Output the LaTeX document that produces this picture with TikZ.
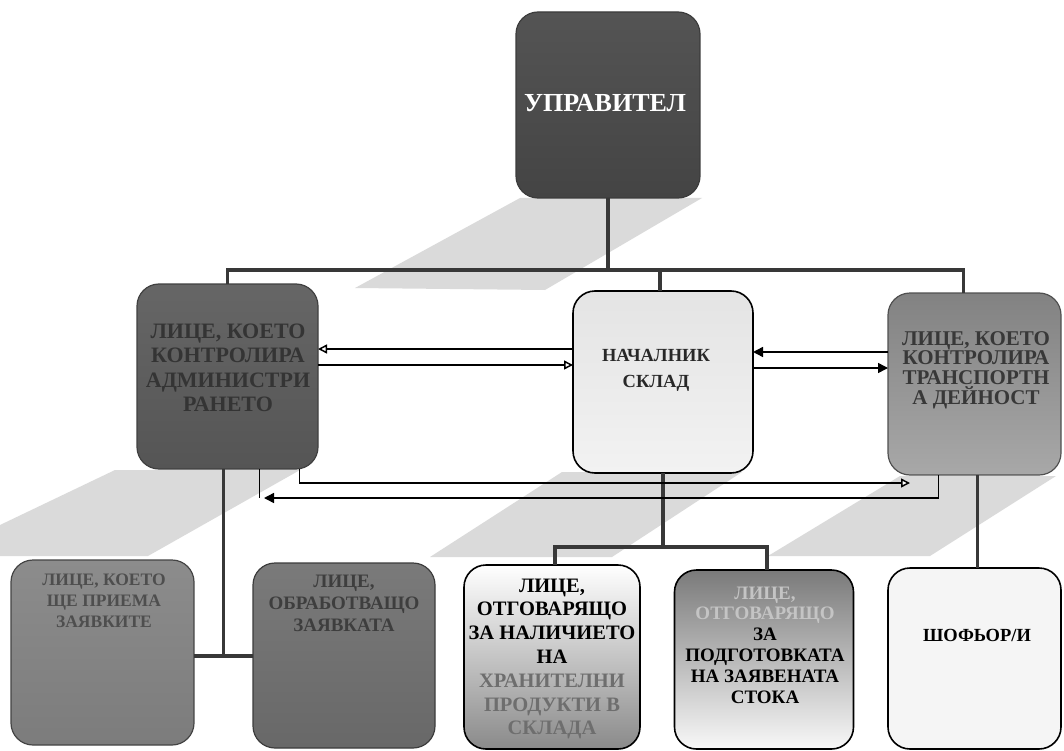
\documentclass[tikz,border=0pt]{standalone}
\usepackage{fontspec}
\setmainfont{Liberation Serif}
\usetikzlibrary{arrows.meta,calc}
\definecolor{shadowgray}{HTML}{DADADA}
\definecolor{lineg}{HTML}{383838}
\definecolor{txtl}{HTML}{C4C4C4}
\definecolor{txtm}{HTML}{6E6E6E}
\newcommand\tightls{\lineskiplimit-20pt\relax\lineskip0pt\relax}
\begin{document}
\begin{tikzpicture}[x=1pt,y=-1pt,
  box/.style={draw, rounded corners=22pt, inner sep=0pt, outer sep=0pt, line width=1.2pt},
  txt/.style={align=center, inner sep=0pt, font=\bfseries},
  orgline/.style={draw=lineg, line width=3.2pt},
  arr/.style={draw=black, line width=1.5pt},
  openarr/.style={arr, -{Triangle[open, length=9pt, width=9pt, fill=white]}},
  fillarr/.style={arr, -{Triangle[length=10pt, width=10pt]}}
]
\useasboundingbox (0,0) rectangle (1064,751);

% shadows
\fill[shadowgray] (355,288) -- (520,198) -- (702,198) -- (545,290) -- cycle;
\fill[shadowgray] (0,556) -- (0,525) -- (115,470) -- (300,470) -- (148,556) -- cycle;
\fill[shadowgray] (430,557) -- (562,472) -- (742,472) -- (612,557) -- cycle;
\fill[shadowgray] (768,556) -- (900,476) -- (1056,476) -- (930,556) -- cycle;

% boxes
\node[box, draw={rgb,255:red,60;green,60;blue,60}, top color={rgb,255:red,84;green,84;blue,84}, bottom color={rgb,255:red,68;green,68;blue,68}, minimum width=184pt, minimum height=186pt] (mgr) at (608,105) {};
\node[box, draw={rgb,255:red,64;green,64;blue,64}, top color={rgb,255:red,102;green,102;blue,102}, bottom color={rgb,255:red,85;green,85;blue,85}, minimum width=181pt, minimum height=185pt] (adm) at (227.5,376.5) {};
\node[box, draw=black, line width=1.6pt, top color={rgb,255:red,228;green,228;blue,228}, middle color={rgb,255:red,196;green,196;blue,196}, bottom color={rgb,255:red,242;green,242;blue,242}, minimum width=180pt, minimum height=182pt] (sklad) at (663,382) {};
\node[box, draw={rgb,255:red,80;green,80;blue,80}, top color={rgb,255:red,130;green,130;blue,130}, middle color={rgb,255:red,150;green,150;blue,150}, bottom color={rgb,255:red,168;green,168;blue,168}, minimum width=173pt, minimum height=182pt] (trans) at (974.5,384) {};
\node[box, draw={rgb,255:red,68;green,68;blue,68}, top color={rgb,255:red,140;green,140;blue,140}, bottom color={rgb,255:red,124;green,124;blue,124}, minimum width=183pt, minimum height=185pt] (b1) at (102.5,652.5) {};
\node[box, draw={rgb,255:red,60;green,60;blue,60}, top color={rgb,255:red,122;green,122;blue,122}, bottom color={rgb,255:red,104;green,104;blue,104}, minimum width=182pt, minimum height=185pt] (b2) at (344,655.5) {};
\node[box, draw=black, line width=1.6pt, top color=white, middle color={rgb,255:red,230;green,230;blue,230}, bottom color={rgb,255:red,138;green,138;blue,138}, minimum width=176pt, minimum height=184pt] (b3) at (552,657) {};
\node[box, draw=black, line width=1.6pt, top color={rgb,255:red,122;green,122;blue,122}, middle color={rgb,255:red,196;green,196;blue,196}, bottom color={rgb,255:red,248;green,248;blue,248}, minimum width=179pt, minimum height=179pt] (b4) at (764,659.5) {};
\node[box, draw=black, line width=1.6pt, fill={rgb,255:red,245;green,245;blue,245}, minimum width=173pt, minimum height=181pt] (b5) at (974.5,658.5) {};

% texts
\node[txt, text=white, font=\bfseries\fontsize{26}{30}\selectfont] (mgrt) at (605,103) {УПРАВИТЕЛ};
\node[txt, text={rgb,255:red,52;green,52;blue,52}, font=\bfseries\fontsize{22}{24.5}\selectfont\tightls] (admt) at (228,368) {ЛИЦЕ, КОЕТО\\КОНТРОЛИРА\\АДМИНИСТРИ\\РАНЕТО};
\node[txt, text={rgb,255:red,40;green,40;blue,40}, font=\bfseries\fontsize{18.5}{26}\selectfont] (skladt) at (656,370) {НАЧАЛНИК\\СКЛАД};
\node[txt, text={rgb,255:red,56;green,56;blue,56}, font=\bfseries\fontsize{21}{19.7}\selectfont\tightls] (transt) at (976,370) {ЛИЦЕ, КОЕТО\\КОНТРОЛИРА\\ТРАНСПОРТН\\А ДЕЙНОСТ};
\node[txt, text={rgb,255:red,78;green,78;blue,78}, font=\bfseries\fontsize{17.5}{21}\selectfont] (b1t) at (104,601) {ЛИЦЕ, КОЕТО\\ЩЕ ПРИЕМА\\ЗАЯВКИТЕ};
\node[txt, text={rgb,255:red,62;green,62;blue,62}, font=\bfseries\fontsize{19}{22}\selectfont] (b2t) at (344,603) {ЛИЦЕ,\\ОБРАБОТВАЩО\\ЗАЯВКАТА};
\node[txt, font=\bfseries\fontsize{20.5}{23.8}\selectfont\tightls] (b3t) at (552,659) {ЛИЦЕ,\\ОТГОВАРЯЩО\\ЗА НАЛИЧИЕТО\\НА\\\textcolor{txtm}{ХРАНИТЕЛНИ}\\\textcolor{txtm}{ПРОДУКТИ В}\\\textcolor{txtm}{СКЛАДА}};
\node[txt, font=\bfseries\fontsize{19}{20.8}\selectfont\tightls] (b4t) at (765,645) {\textcolor{txtl}{ЛИЦЕ,}\\\textcolor{txtl}{ОТГОВАРЯЩО}\\ЗА\\ПОДГОТОВКАТА\\НА ЗАЯВЕНАТА\\СТОКА};
\node[txt, font=\bfseries\fontsize{18.5}{20}\selectfont] (b5t) at (977,635) {ШОФЬОР/И};

% org connectors
\coordinate (busR) at ([xshift=-11pt]trans.north |- 0,270);
\draw[orgline] (mgr.south) -- (mgr.south |- 0,270);
\draw[orgline] (adm.north) |- (busR) -- ([xshift=-11pt]trans.north);
\draw[orgline] ([xshift=-3pt]sklad.north) -- ([xshift=-3pt]sklad.north |- 0,270);
\draw[orgline] ([xshift=-4pt]adm.south) -- ([xshift=-4pt]adm.south |- 0,656);
\draw[orgline] (b1.east |- 0,656) -- (b2.west |- 0,656);
\draw[orgline] (sklad.south) -- (sklad.south |- 0,547);
\draw[orgline] ([xshift=3pt]b3.north) -- ([xshift=3pt]b3.north |- 0,547) -- ([xshift=3pt]b4.north |- 0,547) -- ([xshift=3pt]b4.north);
\draw[orgline] ([xshift=3pt]trans.south) -- ([xshift=3pt]b5.north);

% arrows between the middle row
\draw[openarr] (sklad.west |- 0,349) -- (adm.east |- 0,349);
\draw[openarr] (adm.east |- 0,365) -- (sklad.west |- 0,365);
\draw[fillarr] (trans.west |- 0,352) -- (sklad.east |- 0,352);
\draw[fillarr] (sklad.east |- 0,368) -- (trans.west |- 0,368);

% lower arrows
\coordinate (c5) at (910,483);
\coordinate (c6) at (264,498);
\draw[openarr] ([xshift=72pt]adm.south) |- (c5);
\draw[fillarr] ([xshift=-36pt]trans.south) |- (c6);
\draw[arr] ([xshift=32pt]adm.south) -- ([xshift=32pt]adm.south |- c6);
\end{tikzpicture}
\end{document}
